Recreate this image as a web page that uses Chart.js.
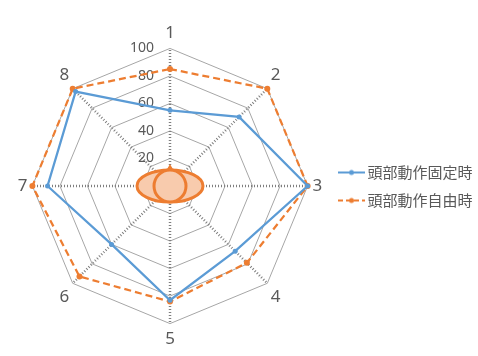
<!DOCTYPE html>
<html>
<head>
<meta charset="utf-8">
<script src="https://cdn.jsdelivr.net/npm/chart.js@4/dist/chart.umd.min.js"></script>
<style>
  html, body { margin: 0; padding: 0; background: #fff; }
  #wrap { width: 478px; height: 356px; }
</style>
</head>
<body>
<div id="wrap"><canvas id="c"></canvas></div>
<script>
// Axis categories (measurement directions) and the two series
const axisLabels = ['1', '2', '3', '4', '5', '6', '7', '8'];
const fixedHead = [55, 71, 100, 67, 83, 60, 89, 97];
const freeHead  = [85, 100, 100, 79, 84, 93, 100, 100];
const seriesNames = ['頭部動作固定時', '頭部動作自由時'];
const tickValues = [20, 40, 60, 80, 100];

const BLUE = '#5B9BD5';
const ORANGE = '#ED7D31';
const TEXT = '#595959';
const NUM_FONT = '"Noto Sans", sans-serif';
const CJK_FONT = '"Noto Sans CJK JP", "Noto Sans", sans-serif';

// Legend symbol: short line with a dot in the middle
function legendSymbol(color, dashed) {
  const cv = document.createElement('canvas');
  cv.width = 27; cv.height = 8;
  const g = cv.getContext('2d');
  g.strokeStyle = color;
  g.lineWidth = 2;
  if (dashed) g.setLineDash([5, 3]);
  g.beginPath(); g.moveTo(0, 4); g.lineTo(27, 4); g.stroke();
  g.setLineDash([]);
  g.fillStyle = color;
  g.beginPath(); g.arc(13.5, 4, 2.5, 0, Math.PI * 2); g.fill();
  return cv;
}
const legendIcons = [legendSymbol(BLUE, false), legendSymbol(ORANGE, true)];

// Radial tick labels, right-aligned just left of the vertical axis
const tickLabelPlugin = {
  id: 'tickLabels',
  beforeDatasetsDraw(chart) {
    const s = chart.scales.r;
    const ctx = chart.ctx;
    ctx.save();
    ctx.font = '14px ' + NUM_FONT;
    ctx.fillStyle = TEXT;
    ctx.textAlign = 'right';
    ctx.textBaseline = 'middle';
    tickValues.forEach(v => {
      const d = s.getDistanceFromCenterForValue(v);
      ctx.fillText(String(v), s.xCenter - 16, s.yCenter - d);
    });
    ctx.restore();
  }
};

// Head icon (top view with nose) at the centre of the radar
const headPlugin = {
  id: 'headIcon',
  afterDatasetsDraw(chart) {
    const s = chart.scales.r;
    const ctx = chart.ctx;
    const x = s.xCenter, y = s.yCenter;
    ctx.save();
    ctx.lineWidth = 3;
    ctx.strokeStyle = ORANGE;
    // nose
    ctx.fillStyle = ORANGE;
    ctx.beginPath();
    ctx.moveTo(x, y - 22);
    ctx.lineTo(x - 4, y - 15);
    ctx.lineTo(x + 4, y - 15);
    ctx.closePath();
    ctx.fill();
    // ears / shoulders ellipse
    ctx.fillStyle = '#F8CBAD';
    ctx.beginPath();
    ctx.ellipse(x, y, 33, 16, 0, 0, Math.PI * 2);
    ctx.fill(); ctx.stroke();
    // head
    ctx.beginPath();
    ctx.arc(x, y, 16, 0, Math.PI * 2);
    ctx.fill(); ctx.stroke();
    ctx.restore();
  }
};

new Chart(document.getElementById('c'), {
  type: 'radar',
  data: {
    labels: axisLabels,
    datasets: [
      {
        label: seriesNames[0],
        data: fixedHead,
        borderColor: BLUE,
        backgroundColor: BLUE,
        borderWidth: 2.25,
        fill: false,
        pointRadius: 2.5,
        pointBorderWidth: 0,
        pointBackgroundColor: BLUE,
        tension: 0
      },
      {
        label: seriesNames[1],
        data: freeHead,
        borderColor: ORANGE,
        backgroundColor: ORANGE,
        borderWidth: 2.25,
        borderDash: [7, 4],
        fill: false,
        pointRadius: 3,
        pointBorderWidth: 0,
        pointBackgroundColor: ORANGE,
        tension: 0
      }
    ]
  },
  options: {
    responsive: true,
    maintainAspectRatio: false,
    animation: false,
    layout: { padding: { left: 12, top: 23, right: -4.5, bottom: 6 } },
    plugins: {
      tooltip: { enabled: false },
      legend: {
        position: 'right',
        align: 'center',
        labels: {
          usePointStyle: true,
          pointStyleWidth: 17,
          color: TEXT,
          font: { family: CJK_FONT, size: 15 },
          padding: 13,
          generateLabels(chart) {
            return chart.data.datasets.map((ds, i) => ({
              text: ds.label,
              pointStyle: legendIcons[i],
              fillStyle: ds.borderColor,
              strokeStyle: ds.borderColor,
              lineWidth: 0,
              fontColor: TEXT,
              datasetIndex: i,
              hidden: false
            }));
          }
        }
      }
    },
    scales: {
      r: {
        min: 0,
        max: 100,
        ticks: { stepSize: 20, display: false },
        grid: { color: '#A6A6A6', lineWidth: 1 },
        angleLines: { color: '#7F7F7F', lineWidth: 2.5, borderDash: [1, 2] },
        pointLabels: {
          color: TEXT,
          font: { family: NUM_FONT, size: 17 },
          padding: 5
        }
      }
    }
  },
  plugins: [tickLabelPlugin, headPlugin]
});
</script>
</body>
</html>
